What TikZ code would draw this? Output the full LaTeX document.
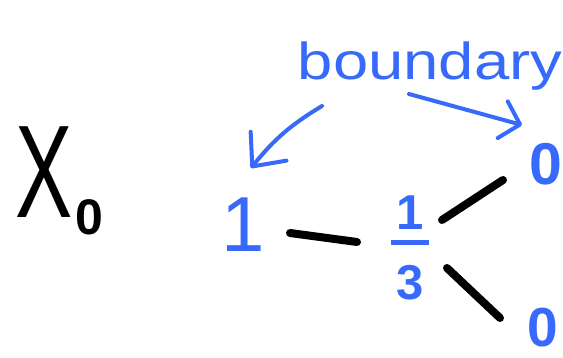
\documentclass[tikz,border=0pt]{standalone}
\usepackage{fontspec}
\setmainfont{Liberation Sans}
\usetikzlibrary{arrows.meta}
\definecolor{pen}{RGB}{55,105,250}
\begin{document}
\begin{tikzpicture}[x=1pt,y=-1pt,
  lbl/.style={text=pen, inner sep=0pt},
  edge/.style={line width=8pt, line cap=round, draw=black},
  note/.style={draw=pen, line width=4pt, line cap=round, line join=round},
]
\useasboundingbox (0,0) rectangle (563,358);

% the space X_0
\node[inner sep=0pt, anchor=base west] (xsym) at (15,218)
  {\scalebox{0.65}[1]{\fontsize{132}{132}\selectfont X}\hspace{3pt}%
   \raisebox{-17pt}{\fontsize{50}{50}\selectfont\bfseries 0}};

% label of the boundary
\node[lbl, anchor=base] (bnd) at (430,80)
  {\scalebox{1.22}[1]{\fontsize{52}{52}\selectfont boundary}};

% vertex values
\node[lbl, font=\fontsize{78}{78}\selectfont] (one) at (243,225) {1};
\node[lbl, align=center, font=\fontsize{49}{35}\selectfont\bfseries] (third) at (410,247.5)
  {1\\\rule[19.5pt]{38pt}{5pt}\\3};
\node[lbl, font=\fontsize{59}{59}\selectfont\bfseries] (topzero) at (546,164) {0};
\node[lbl, font=\fontsize{55}{55}\selectfont\bfseries] (botzero) at (543,328) {0};

% edges of the graph
\draw[edge] ([shift={(47,8)}]one.center) -- ([shift={(-53,-5.5)}]third.center);
\draw[edge] ([shift={(32,-27.5)}]third.center) -- ([shift={(-43,16)}]topzero.center);
\draw[edge] ([shift={(37,20.5)}]third.center) -- ([shift={(-43,-10)}]botzero.center);

% arrows from the label to the boundary vertices
\draw[note, -{Straight Barb[length=26pt,width=46pt,round]}]
  ([shift={(-108,26)}]bnd.base) to[bend right=10] ([shift={(8,-57)}]one.center);
\draw[note, -{Straight Barb[length=18pt,width=38pt,round]}]
  ([shift={(-21,14)}]bnd.base) -- ([shift={(-24,-39)}]topzero.center);
\end{tikzpicture}
\end{document}
